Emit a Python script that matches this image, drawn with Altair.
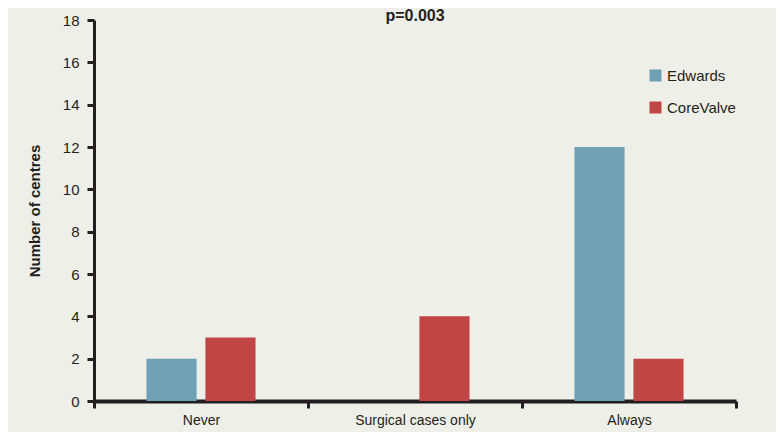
import altair as alt
import pandas as pd

categories = ["Never", "Surgical cases only", "Always"]
series = ["Edwards", "CoreValve"]
edwards = [2, 0, 12]
corevalve = [3, 4, 2]
colors = ["#6fa0b3", "#c14545"]
y_ticks = [0, 2, 4, 6, 8, 10, 12, 14, 16, 18]
title_text = ["p=0.003"]

rows = []
for c, e, v in zip(categories, edwards, corevalve):
    rows.append({"category": c, "valve": "Edwards", "centres": e})
    rows.append({"category": c, "valve": "CoreValve", "centres": v})
df = pd.DataFrame(rows)

FONT = "Liberation Sans, Arial, sans-serif"
INK = "#231f20"

bars = alt.Chart(df).mark_bar().encode(
    x=alt.X("category:N", sort=categories,
            scale=alt.Scale(paddingInner=0, paddingOuter=0),
            axis=alt.Axis(title=None, tickBand="extent", tickExtra=True,
                          labelAngle=0, domainWidth=4, tickWidth=3, tickSize=7,
                          labelPadding=5, labelFontSize=14)),
    xOffset=alt.XOffset("valve:N", sort=series,
                        scale=alt.Scale(paddingInner=0.15, paddingOuter=0.89)),
    y=alt.Y("centres:Q", scale=alt.Scale(domain=[0, 18], nice=False),
            axis=alt.Axis(title="Number of centres", values=y_ticks,
                          domainWidth=3, tickWidth=3, tickSize=7,
                          labelPadding=8, labelFontSize=15,
                          titleFontSize=15, titleFontWeight="bold",
                          titlePadding=20, grid=False)),
    color=alt.Color("valve:N", sort=series,
                    scale=alt.Scale(domain=series, range=colors),
                    legend=alt.Legend(title=None, orient="none", legendX=554, legendY=48,
                                      symbolType="square", symbolSize=144,
                                      symbolStrokeWidth=0, labelFontSize=15,
                                      labelOffset=4, rowPadding=16, padding=0)),
)

title = alt.Chart(pd.DataFrame({"t": title_text})).mark_text(
    fontSize=16, fontWeight="bold", font=FONT, color=INK,
    align="center", baseline="alphabetic",
).encode(text="t:N", x=alt.value(321), y=alt.value(1))

chart = alt.layer(bars, title).properties(
    width=642, height=381,
    autosize=alt.AutoSizeParams(type="none"),
    padding={"left": 86, "top": 12, "right": 40, "bottom": 31},
    background="#efefea",
).configure_view(stroke=None).configure_axis(
    domainColor=INK, tickColor=INK, labelColor=INK, titleColor=INK,
    labelFont=FONT, titleFont=FONT,
).configure_legend(labelFont=FONT, labelColor=INK)

chart.save("out.html", embed_options={"renderer": "svg", "actions": False})
